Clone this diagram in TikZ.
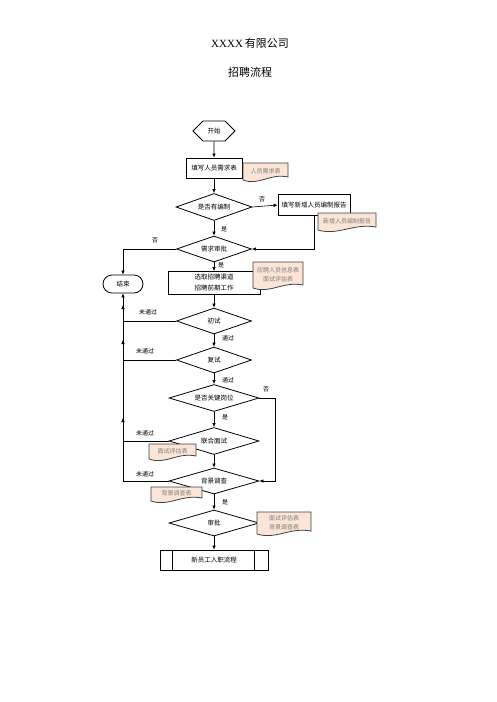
\documentclass[tikz,border=0pt]{standalone}
\usepackage{fontspec}
\setmainfont{Liberation Serif}
\newfontfamily\cjk{Noto Sans CJK SC}
\newfontfamily\latinserif{Liberation Serif}
\usetikzlibrary{shapes.geometric,shapes.symbols,arrows.meta}
\definecolor{docfill}{HTML}{FCE4D6}
\definecolor{docline}{HTML}{404040}
\definecolor{doctext}{HTML}{808080}
\newcommand{\docbox}[6]{%
  \draw[line width=0.8pt, draw=docline, fill=docfill]
    (#2,#3) -- (#4,#3) -- (#4,{#5-5})
    .. controls ({#2+0.6*(#4-#2)},{#5-9}) and ({#2+0.35*(#4-#2)},{#5+4}) .. (#2,{#5-2}) -- cycle;
  \node[doctxt] (#1) at ({(#2+#4)/2},{(#3+#5)/2-1.5}) {#6};
}
\begin{document}
\begin{tikzpicture}[x=1pt,y=-1pt,
  font=\cjk\fontsize{6.5}{8}\selectfont,
  box/.style={draw, line width=0.8pt, inner sep=1pt},
  dia/.style={diamond, draw, line width=0.8pt, inner sep=0pt, aspect=3},
  lbl/.style={font=\cjk\fontsize{6}{7}\selectfont, inner sep=0pt},
  doctxt/.style={text=doctext, align=center, inner sep=0pt, font=\cjk\fontsize{6}{9}\selectfont},
  con/.style={line width=0.6pt, -{Latex[length=4pt,width=3.5pt]}},
  ln/.style={line width=0.6pt}]
\useasboundingbox (0,0) rectangle (496,702);

% titles
\node (t1) at (250,43) {\fontsize{11}{13}\selectfont {\latinserif XXXX}\,{\cjk 有限公司}};
\node (t2) at (250,72) {\fontsize{11}{13}\selectfont 招聘流程};

% main column
\node[signal, signal to=west and east, draw, line width=0.8pt, minimum width=42pt, minimum height=20pt, inner sep=1pt] (start) at (214,131) {开始};
\node[box, minimum width=56pt, minimum height=20pt] (req) at (214,168) {填写人员需求表};
\docbox{docreq}{243}{163}{288}{182}{人员需求表}

\node[dia, minimum width=76pt, minimum height=27pt] (d1) at (214,207) {是否有编制};
\node[box, minimum width=72pt, minimum height=21pt] (newrep) at (314,205) {填写新增人员编制报告};

\node[dia, minimum width=75pt, minimum height=26pt] (d2) at (214,249) {需求审批};
\node[draw, line width=0.8pt, rounded corners=9pt, minimum width=40pt, minimum height=18pt, inner sep=1pt] (endn) at (123,284) {结束};

\node[box, minimum width=92pt, minimum height=23pt, align=center, font=\cjk\fontsize{6.5}{11}\selectfont] (chan) at (214,283) {选取招聘渠道\\招聘前期工作};

\node[dia, minimum width=75pt, minimum height=26pt] (d3) at (214,321) {初试};
\node[dia, minimum width=75pt, minimum height=26pt] (d4) at (214,360) {复试};
\node[dia, minimum width=90pt, minimum height=27pt] (d5) at (214,398) {是否关键岗位};
\node[dia, minimum width=90pt, minimum height=27pt] (d6) at (214,441) {联合面试};
\node[dia, minimum width=90pt, minimum height=26pt] (d7) at (214,481) {背景调查};
\node[dia, minimum width=90pt, minimum height=26pt] (d8) at (214,523) {审批};
\node[box, minimum width=108pt, minimum height=20pt] (onb) at (214,560) {新员工入职流程};
\draw[line width=0.8pt] ([xshift=13pt]onb.north west) -- ([xshift=13pt]onb.south west);
\draw[line width=0.8pt] ([xshift=-14pt]onb.north east) -- ([xshift=-14pt]onb.south east);

% connectors
\draw[con] (start) -- (req);
\draw[con] (req) -- (d1);
\draw[con] (d1) -- (d2);
\draw[con] (d1.east) -- (newrep.west);
\draw[con] (newrep.south) |- (d2.east);
\draw[con] (d2.west) -| (endn.north);
\draw[con] (d2) -- (chan);
\draw[con] (chan) -- (d3);
\draw[con] (d3) -- (d4);
\draw[con] (d4) -- (d5);
\draw[con] (d5) -- (d6);
\draw[con] (d6) -- (d7);
\draw[con] (d7) -- (d8);
\draw[con] (d8) -- (onb);
\coordinate (k) at (275,398);
\draw[con] (d5.east) -- (k) |- (d7.east);

% failure paths
\coordinate (a4) at (123,305);
\coordinate (a6) at (123,340);
\coordinate (a7) at (123,418);
\draw[con] (d3.west) -| (endn.south);
\draw[con] (d4.west) -| (a4);
\draw[con] (d6.west) -| (a6);
\draw[con] (d7.west) -| (a7);

% documents drawn over
\docbox{docnew}{318}{213}{376}{232}{新增人员编制报告}
\docbox{docapp}{253}{262}{303}{290}{应聘人员信息表\\面试评估表}
\docbox{docint}{149}{444}{196}{461}{面试评估表}
\docbox{docbg}{151}{487}{202}{503}{背景调查表}
\docbox{docfin}{257}{512}{311}{536}{面试评估表\\背景调查表}

% labels
\node[lbl] (l1) at (262,199) {否};
\node[lbl] (l2) at (224,229) {是};
\node[lbl] (l3) at (155,240) {否};
\node[lbl] (l4) at (221,265) {是};
\node[lbl] (l5) at (148,312) {未通过};
\node[lbl] (l6) at (228,338) {通过};
\node[lbl] (l7) at (145,351) {未通过};
\node[lbl] (l8) at (228,380) {通过};
\node[lbl] (l9) at (266,389) {否};
\node[lbl] (l10) at (225,417) {是};
\node[lbl] (l11) at (145,433) {未通过};
\node[lbl] (l12) at (145,474) {未通过};
\node[lbl] (l13) at (225,502) {是};
\end{tikzpicture}
\end{document}
